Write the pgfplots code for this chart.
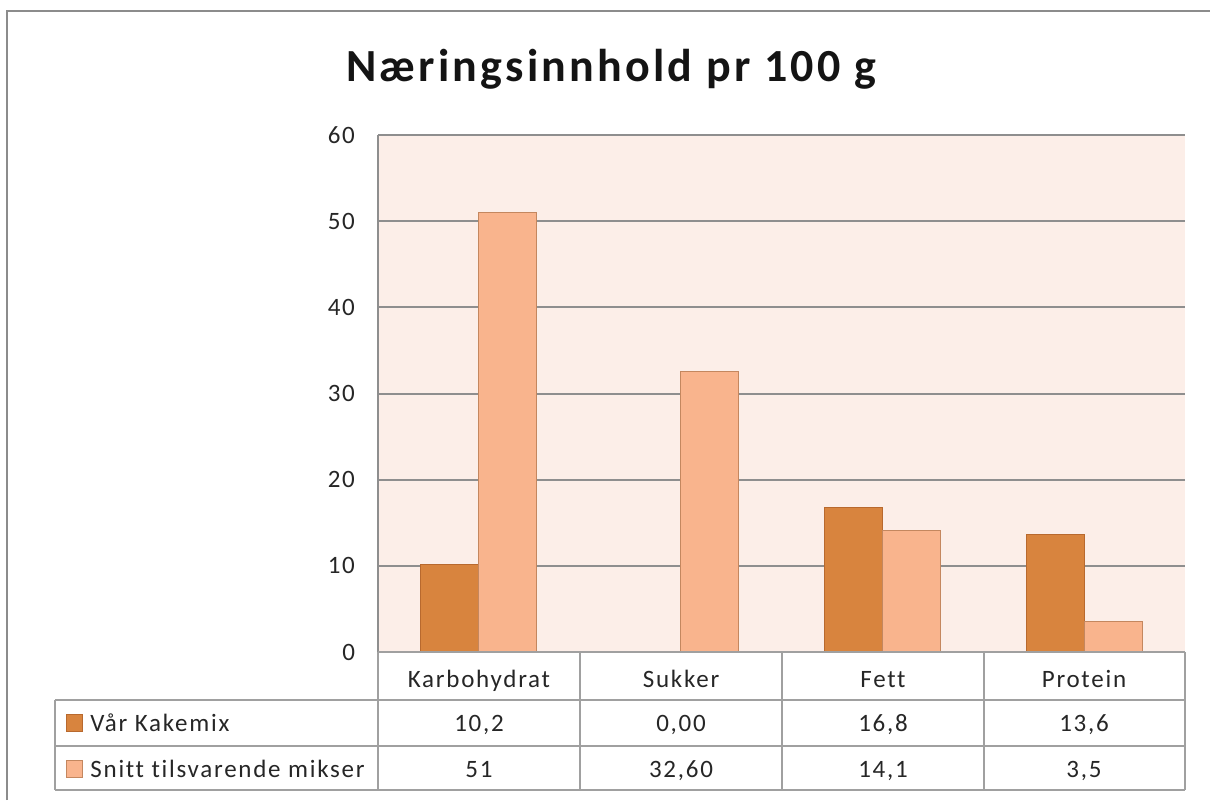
\documentclass[border=0pt]{standalone}
\usepackage{fontspec}
\setmainfont{Carlito}[LetterSpace=7, Ligatures={NoCommon}]
\usepackage{pgfplots}
\pgfplotsset{compat=1.18}
\definecolor{dark}{HTML}{D8843E}
\definecolor{darkb}{HTML}{B8692E}
\definecolor{light}{HTML}{F9B48D}
\definecolor{lightb}{HTML}{C4875F}
\definecolor{bgc}{HTML}{FCEEE8}
\definecolor{gridc}{HTML}{8E8E8E}
\definecolor{tabc}{HTML}{A0A0A0}
\definecolor{txt}{HTML}{262626}
\definecolor{frame}{HTML}{8C8C8C}
\begin{document}
\begin{tikzpicture}
\path[use as bounding box] (0,0) rectangle (605pt,-400pt);
\begin{axis}[
  at={(189pt,-326pt)}, anchor=south west,
  scale only axis, width=403.5pt, height=258.5pt,
  xmin=-0.5, xmax=3.5, ymin=0, ymax=60,
  ybar=0pt, bar width=29pt,
  axis background/.style={fill=bgc},
  separate axis lines,
  axis x line=none,
  axis y line*=left,
  y axis line style={draw=gridc, line width=1pt, -},
  ytick={0,10,...,60}, xtick=\empty,
  ymajorgrids, grid style={gridc, line width=1pt},
  major tick length=0pt,
  /pgf/number format/assume math mode=true,
  yticklabel style={font=\fontsize{12.5}{14}\selectfont, text=txt, xshift=-8pt},
  clip=false,
]
\addplot[fill=dark, draw=darkb, line width=0.6pt] coordinates {(0,10.2) (1,0) (2,16.8) (3,13.6)};
\addplot[fill=light, draw=lightb, line width=0.6pt] coordinates {(0,51) (1,32.6) (2,14.1) (3,3.5)};
\end{axis}
\begin{scope}[x=0.5pt,y=-0.5pt]
  % outer frame
  \draw[frame, line width=1.2pt] (7,800) -- (7,11) -- (1212,11);
  % title
  \node[anchor=base, font=\bfseries\fontsize{23}{26}\selectfont, text=black!92] at (611,81) {Næringsinnhold pr 100 g};
  % table grid
  \begin{scope}[tabc, line width=1pt]
    \draw (378,652) -- (1185,652);
    \draw (55,700) -- (1185,700);
    \draw (55,746) -- (1185,746);
    \draw (55,790) -- (1185,790);
    \draw (55,700) -- (55,790);
    \foreach \x in {378,580,782,984,1185} \draw (\x,652) -- (\x,790);
  \end{scope}
  \begin{scope}[font=\fontsize{12.5}{14}\selectfont, text=txt]
    \node[anchor=base] at (479,687) {Karbohydrat};
    \node[anchor=base] at (681,687) {Sukker};
    \node[anchor=base] at (883,687) {Fett};
    \node[anchor=base] at (1084,687) {Protein};
    \node[anchor=base] at (479,731) {10,2};
    \node[anchor=base] at (681,731) {0,00};
    \node[anchor=base] at (883,731) {16,8};
    \node[anchor=base] at (1084,731) {13,6};
    \node[anchor=base] at (479,777) {51};
    \node[anchor=base] at (681,777) {32,60};
    \node[anchor=base] at (883,777) {14,1};
    \node[anchor=base] at (1084,777) {3,5};
    \node[anchor=base west, inner sep=0pt] at (90,731) {Vår Kakemix};
    \node[anchor=base west, inner sep=0pt] at (90,777) {Snitt tilsvarende mikser};
  \end{scope}
  \filldraw[fill=dark, draw=darkb, line width=0.5pt] (66,714) rectangle (82,731);
  \filldraw[fill=light, draw=lightb, line width=0.5pt] (66,760) rectangle (82,777);
\end{scope}
\end{tikzpicture}
\end{document}
